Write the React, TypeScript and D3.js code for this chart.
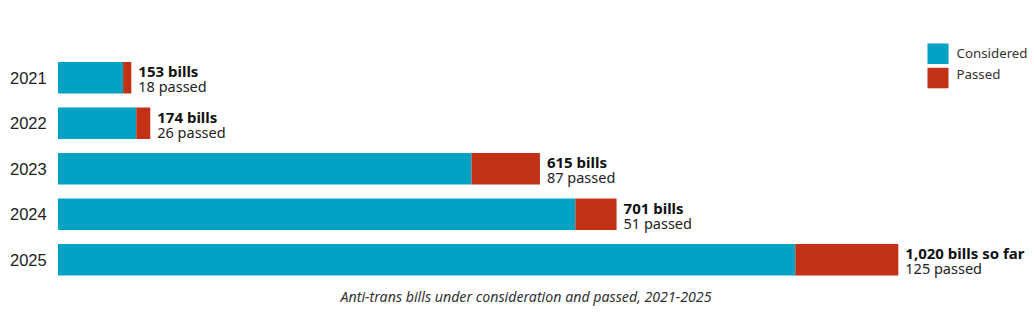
import React from "react";
import * as d3 from "d3";

// Categories and label values
const years = ["2021", "2022", "2023", "2024", "2025"];
const billLabels = ["153 bills", "174 bills", "615 bills", "701 bills", "1,020 bills so far"];
const passedLabels = ["18 passed", "26 passed", "87 passed", "51 passed", "125 passed"];
// Segment lengths as drawn in the reference (in bills)
const consideredValues = [79, 95, 502, 628, 895];
const passedValues = [10, 17, 83, 50, 125];
const legendLabels = ["Considered", "Passed"];

const W = 1034;
const H = 321;
const BLUE = "#00A3C4";
const RED = "#C23116";
const FONT = "'Segoe UI', 'Noto Sans', 'Open Sans', sans-serif";

export default function App() {
  const x = d3.scaleLinear().domain([0, 1020]).range([58, 898.3]);
  const y = d3
    .scaleBand()
    .domain(years)
    .range([62, 62 + 45.5 * 5 - 14])
    .paddingInner(14 / 45.5)
    .paddingOuter(0);
  const color = d3.scaleOrdinal<string, string>().domain(legendLabels).range([BLUE, RED]);
  return (
    <div style={{ position: "absolute", left: 0, top: 0, width: W, height: H, overflow: "hidden" }}>
      <svg width={W} height={H} style={{ display: "block", background: "#fff" }}>
        {years.map((yr, i) => {
          const y0 = y(yr)!;
          const bh = y.bandwidth();
          const total = consideredValues[i] + passedValues[i];
          return (
            <g key={yr}>
              <text x={10} y={y0 + bh / 2} dy="0.36em" fontFamily="'Liberation Sans', Arial, sans-serif" fontSize={16.5} fill="#222">
                {yr}
              </text>
              <rect x={x(0)} y={y0} width={x(consideredValues[i]) - x(0)} height={bh} fill={color("Considered")} />
              <rect x={x(consideredValues[i])} y={y0} width={x(total) - x(consideredValues[i])} height={bh} fill={color("Passed")} />
              <text x={x(total) + 7} y={y0 + 15} fontFamily={FONT} fontSize={15} fontWeight="bold" fill="#111">
                {billLabels[i]}
              </text>
              <text x={x(total) + 7} y={y0 + 30} fontFamily={FONT} fontSize={14.5} fill="#222">
                {passedLabels[i]}
              </text>
            </g>
          );
        })}
        {legendLabels.map((l, i) => (
          <g key={l}>
            <rect x={927.5} y={43.5 + i * 24.3} width={21} height={20.5} fill={color(l)} />
            <text x={956.5} y={53} dy={`${0.35 + i * 1.6}em`} fontFamily={FONT} fontSize={13.3} fill="#333">
              {l}
            </text>
          </g>
        ))}
        <text x={526} y={302} textAnchor="middle" fontFamily={FONT} fontSize={14.2} fontStyle="italic" fill="#333">
          Anti-trans bills under consideration and passed, 2021-2025
        </text>
      </svg>
    </div>
  );
}
